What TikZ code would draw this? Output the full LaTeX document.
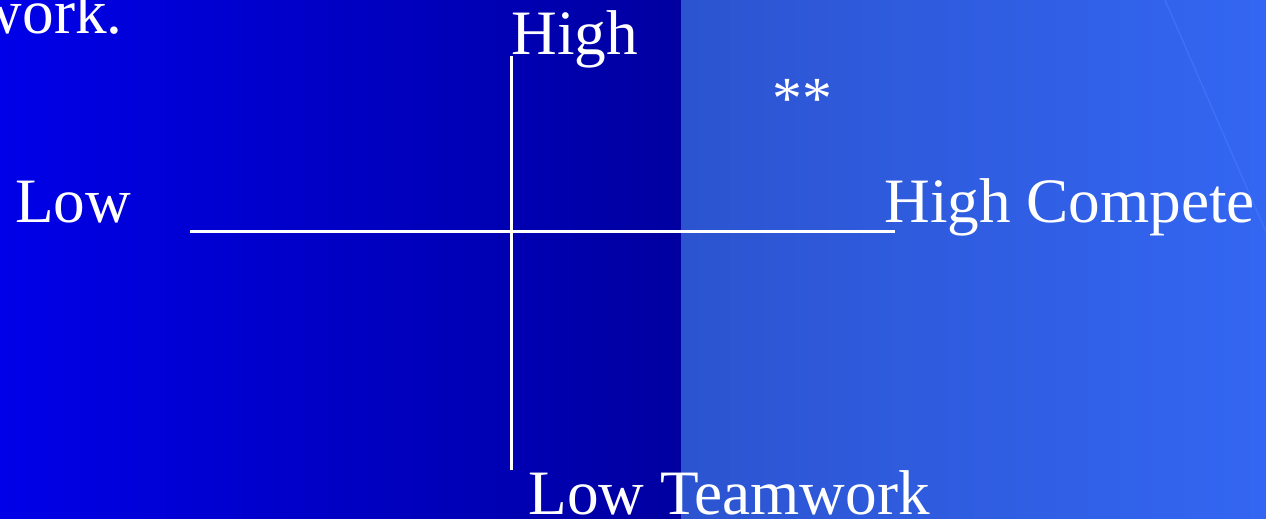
\documentclass[tikz,border=0pt]{standalone}
\usepackage{fontspec}
\setmainfont{Liberation Serif}
\definecolor{bgleft}{RGB}{0,0,232}
\definecolor{bgmid}{RGB}{0,0,160}
\definecolor{bgpale}{RGB}{44,84,208}
\definecolor{bgright}{RGB}{51,102,242}
\definecolor{streak}{RGB}{62,112,250}
\usetikzlibrary{positioning}

\begin{document}
\begin{tikzpicture}[
  x=0.02cm,y=-0.02cm,
  font=\fontsize{36}{40}\selectfont,
  lbl/.style={text=white,inner sep=0pt,anchor=base west},
  axis/.style={draw=white,line width=1.4pt}
]
\useasboundingbox (0,0) rectangle (1266,518);
\clip (0,0) rectangle (1266,518);
% backdrop
\shade[left color=bgleft,right color=bgmid] (0,0) rectangle (681,518);
\shade[left color=bgpale,right color=bgright] (681,0) rectangle (1266,518);
\draw[streak,line width=0.8pt] (1165,0) -- (1300,310);
% labels
\node[lbl,anchor=base east] (ork) at (123,33) {work.};
\node[lbl] (hightop) at (511,54) {High};
\node[text=white,inner sep=0pt,font=\fontsize{34}{38}\selectfont] (stars) at (802,99) {**};
\node[lbl] (lowleft) at (15,222) {Low};
\node[lbl] (highcomp) at (884,222) {High Compete};
\node[lbl] (lowteam) at (528,514) {Low Teamwork};
% axes
\coordinate (axw) at (190,231.5);
\coordinate (axe) at (895,231.5);
\coordinate (axn) at (511.5,56);
\coordinate (axs) at (511.5,470);
\draw[axis] (axw) -- (axe);
\draw[axis] (axn) -- (axs);
\end{tikzpicture}
\end{document}
